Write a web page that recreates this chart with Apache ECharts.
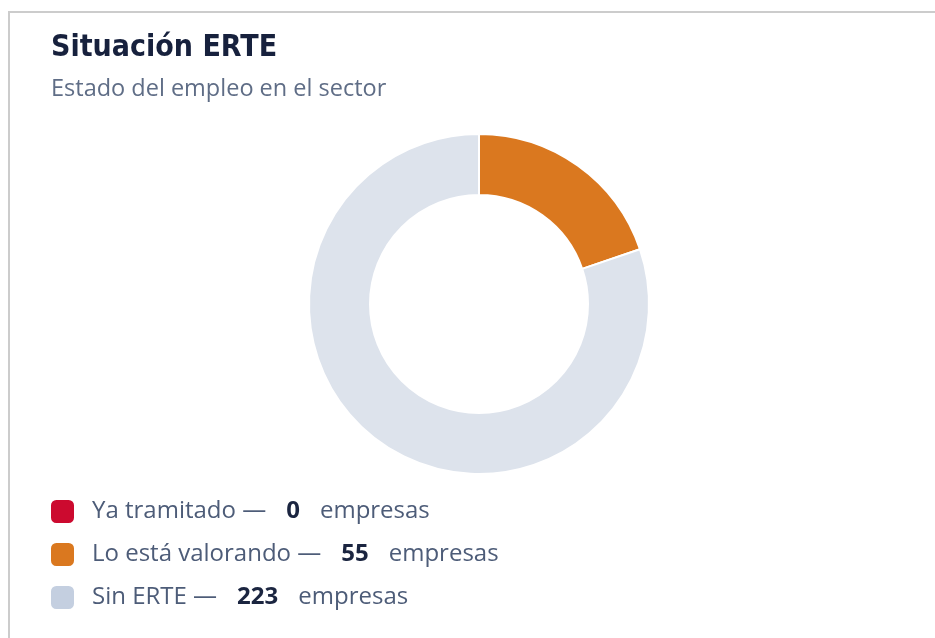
<!DOCTYPE html>
<html>
<head>
<meta charset="utf-8">
<script src="https://cdn.jsdelivr.net/npm/echarts@6/dist/echarts.min.js"></script>
<style>
  html, body { margin: 0; padding: 0; overflow: hidden; background: #fff; }
  .frame {
    position: absolute;
    left: 8px;
    top: 11px;
    width: 1000px;
    height: 700px;
    border: 2px solid #cccccc;
  }
  #chart {
    position: absolute;
    left: 0;
    top: 0;
    width: 935px;
    height: 638px;
  }
</style>
</head>
<body>
<div class="frame"></div>
<div id="chart"></div>
<script>
  // datos del gráfico
  const categorias = ['Ya tramitado', 'Lo está valorando', 'Sin ERTE'];
  const empresas = [0, 55, 223];
  const coloresPie = ['#cc0a2f', '#da781f', '#dde3ec'];
  const coloresLeyenda = ['#cc0a2f', '#da781f', '#c4cfe0'];

  let myChart = echarts.init(document.getElementById('chart'));
  let option = {
    animation: false,
    title: {
      text: 'Situación ERTE',
      subtext: 'Estado del empleo en el sector',
      left: 51,
      top: 33,
      padding: 0,
      itemGap: 14,
      textStyle: {
        fontFamily: '"DejaVu Sans Condensed", sans-serif',
        fontWeight: 'bold',
        fontSize: 30,
        color: '#17213d'
      },
      subtextStyle: {
        fontFamily: '"Open Sans", sans-serif',
        fontSize: 23.5,
        color: '#5f6d86'
      }
    },
    legend: {
      orient: 'vertical',
      left: 49,
      top: 498,
      padding: 0,
      itemWidth: 25,
      itemHeight: 25,
      itemGap: 16,
      icon: 'roundRect',
      selectedMode: false,
      data: categorias.map((c, i) => ({
        name: c,
        itemStyle: { color: coloresLeyenda[i] }
      })),
      formatter: function (name) {
        let i = categorias.indexOf(name);
        return '{a|' + name + ' —}{b|' + empresas[i] + '}{c|empresas}';
      },
      textStyle: {
        padding: [0, 0, 0, 12],
        rich: {
          a: { fontFamily: '"Open Sans", sans-serif', fontSize: 24, color: '#4d5c78' },
          b: { fontFamily: '"Open Sans", sans-serif', fontSize: 24, fontWeight: 'bold', color: '#1b2540', padding: [0, 20, 0, 20] },
          c: { fontFamily: '"Open Sans", sans-serif', fontSize: 24, color: '#4d5c78' }
        }
      }
    },
    series: [
      {
        type: 'pie',
        center: [479, 304],
        radius: [109, 170],
        startAngle: 90,
        clockwise: true,
        label: { show: false },
        labelLine: { show: false },
        emphasis: { disabled: true },
        itemStyle: { borderColor: '#fff', borderWidth: 2 },
        data: categorias.map((c, i) => ({
          name: c,
          value: empresas[i],
          itemStyle: { color: coloresPie[i] }
        }))
      }
    ]
  };
  myChart.setOption(option);
</script>
</body>
</html>
